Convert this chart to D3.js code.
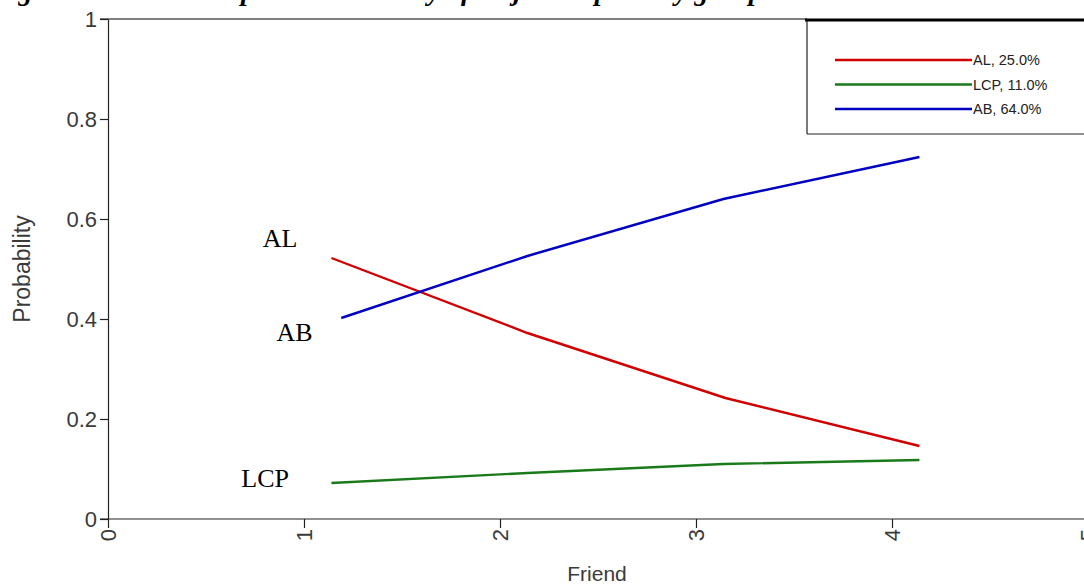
<!DOCTYPE html>
<html>
<head>
<meta charset="utf-8">
<script src="https://cdn.jsdelivr.net/npm/d3@7"></script>
<style>
  html, body { margin: 0; padding: 0; background: #fff; overflow: hidden; }
  svg { display: block; }
</style>
</head>
<body>
<svg id="chart" width="1084" height="585"></svg>
<script>
// ---- data ----
const titleText = "Figure 4: Relationship and Probability of major adoption by group";
const xLabel = "Friend";
const yLabel = "Probability";
const xTicks = [0, 1, 2, 3, 4, 5];
const yTicks = [0, 0.2, 0.4, 0.6, 0.8, 1];
const yTickLabels = ["0", "0.2", "0.4", "0.6", "0.8", "1"];

const seriesNames = ["AL", "LCP", "AB"];
const legendLabels = ["AL, 25.0%", "LCP, 11.0%", "AB, 64.0%"];
const seriesColors = ["#d00000", "#1a7a1a", "#0000c0"];

const alX = [1.14, 2.14, 3.15, 4.14];
const alY = [0.522, 0.372, 0.242, 0.146];
const lcpX = [1.14, 2.14, 3.14, 4.14];
const lcpY = [0.072, 0.092, 0.110, 0.118];
const abX = [1.19, 2.14, 3.14, 4.14];
const abY = [0.402, 0.526, 0.640, 0.724];

const inlineLabels = ["AL", "AB", "LCP"];
const inlineLabelX = [0.79, 0.86, 0.68];
const inlineLabelY = [0.545, 0.357, 0.065];

// ---- layout ----
const svg = d3.select("#chart");
const x = d3.scaleLinear().domain([0, 5]).range([108, 1088]);
const y = d3.scaleLinear().domain([0, 1]).range([519, 19]);
const sans = "Liberation Sans, Arial, sans-serif";
const textGrey = "#3a3a3a";

// title (cut off at top)
svg.append("text")
  .attr("x", -8).attr("y", 0)
  .attr("font-family", "Liberation Serif, Times New Roman, serif")
  .attr("font-weight", "bold").attr("font-style", "italic")
  .attr("font-size", 28).attr("fill", "#000")
  .text(titleText);

// top frame line
svg.append("line")
  .attr("x1", x(0) - 8).attr("x2", 807)
  .attr("y1", y(1)).attr("y2", y(1))
  .attr("stroke", "#555").attr("stroke-width", 1.5);

// y axis
const yAxis = d3.axisLeft(y).tickValues(yTicks)
  .tickFormat((d, i) => yTickLabels[i]).tickSize(8).tickSizeOuter(0);
const gy = svg.append("g").attr("transform", `translate(${x(0)},0)`).call(yAxis);
gy.select(".domain").attr("stroke", "#222").attr("stroke-width", 1.2);
gy.selectAll(".tick line").attr("stroke", "#222").attr("stroke-width", 1.2);
gy.selectAll(".tick text")
  .attr("font-family", sans)
  .attr("font-size", 22).attr("fill", textGrey)
  .attr("x", -11);

// x axis
const xAxis = d3.axisBottom(x).tickValues(xTicks).tickFormat(d3.format("d")).tickSize(9).tickSizeOuter(0);
const gx = svg.append("g").attr("transform", `translate(0,${y(0)})`).call(xAxis);
gx.select(".domain").attr("stroke", "#222").attr("stroke-width", 1.2)
  .attr("d", `M${x(0) - 8},0H1084`);
gx.selectAll(".tick line").attr("stroke", "#222").attr("stroke-width", 1.2);
gx.selectAll(".tick text")
  .attr("font-family", sans)
  .attr("font-size", 22).attr("fill", textGrey)
  .attr("transform", "rotate(-90)")
  .attr("text-anchor", "end")
  .attr("x", -10).attr("y", 0).attr("dy", "0.35em");

// axis labels
svg.append("text")
  .attr("transform", `translate(22,${y(0.5)}) rotate(-90)`)
  .attr("text-anchor", "middle")
  .attr("dy", "0.35em")
  .attr("font-family", sans)
  .attr("font-size", 23).attr("fill", textGrey)
  .text(yLabel);
svg.append("text")
  .attr("x", 597).attr("y", 581)
  .attr("text-anchor", "middle")
  .attr("font-family", sans)
  .attr("font-size", 21).attr("fill", textGrey)
  .text(xLabel);

// lines
const line = d3.line().x(d => x(d[0])).y(d => y(d[1]));
const seriesData = [
  d3.zip(alX, alY),
  d3.zip(lcpX, lcpY),
  d3.zip(abX, abY)
];
seriesData.forEach((pts, i) => {
  svg.append("path").datum(pts)
    .attr("d", line)
    .attr("fill", "none")
    .attr("stroke", seriesColors[i])
    .attr("stroke-width", 2.4);
});

// inline labels
inlineLabels.forEach((t, i) => {
  svg.append("text")
    .attr("x", x(inlineLabelX[i])).attr("y", y(inlineLabelY[i]))
    .attr("font-family", "Liberation Serif, Times New Roman, serif")
    .attr("font-size", 26).attr("fill", "#000")
    .text(t);
});

// legend
const lg = svg.append("g");
lg.append("line").attr("x1", 807).attr("x2", 807).attr("y1", 20).attr("y2", 134)
  .attr("stroke", "#222").attr("stroke-width", 1.2);
lg.append("line").attr("x1", 807).attr("x2", 1084).attr("y1", 134).attr("y2", 134)
  .attr("stroke", "#222").attr("stroke-width", 1.2);
lg.append("line").attr("x1", 805).attr("x2", 1084).attr("y1", 20).attr("y2", 20)
  .attr("stroke", "#000").attr("stroke-width", 3);
const legY = d3.scalePoint().domain(legendLabels).range([60, 109]);
legendLabels.forEach((lab, i) => {
  lg.append("line")
    .attr("x1", 835).attr("x2", 972)
    .attr("y1", legY(lab)).attr("y2", legY(lab))
    .attr("stroke", seriesColors[i]).attr("stroke-width", 2.4);
  lg.append("text")
    .attr("x", 973).attr("y", legY(lab))
    .attr("dy", "0.35em")
    .attr("font-family", sans)
    .attr("font-size", 14.5).attr("fill", "#222")
    .text(lab);
});
</script>
</body>
</html>
